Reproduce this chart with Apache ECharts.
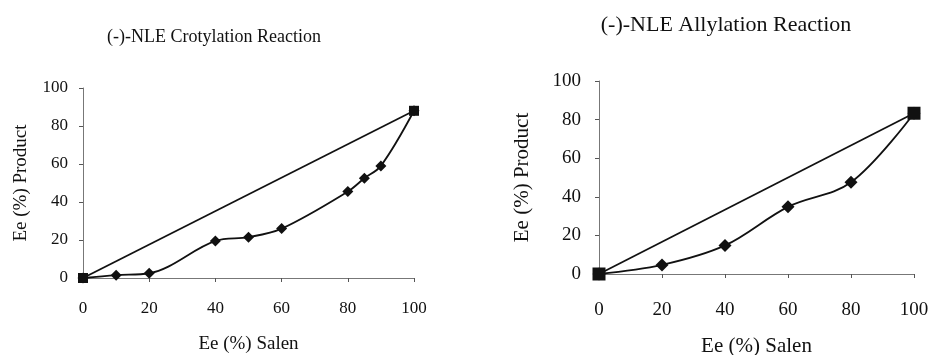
<!DOCTYPE html>
<html>
<head>
<meta charset="utf-8">
<script src="https://cdn.jsdelivr.net/npm/echarts@6/dist/echarts.min.js"></script>
<style>
  html, body { margin: 0; padding: 0; background: #fff; }
  #chart { width: 932px; height: 355px; }
</style>
</head>
<body>
<div id="chart"></div>
<script>
// crotylation (left panel)
const crotylSalen = [0, 10, 20, 40, 50, 60, 80, 85, 90, 100]
const crotylProduct = [0, 1.5, 2.5, 19.5, 21.5, 26, 45.5, 52.5, 59, 88]
const crotylLinearX = [0, 100]
const crotylLinearY = [0, 88]

// allylation (right panel)
const allylSalen = [0, 20, 40, 60, 80, 100]
const allylProduct = [0, 4.7, 14.8, 34.8, 47.5, 83.3]
const allylLinearX = [0, 100]
const allylLinearY = [0, 83.3]

const axisTicks = [0, 20, 40, 60, 80, 100]

const FONT = '"Liberation Serif", "DejaVu Serif", serif'
const INK = '#111'

const pairs = (xs, ys) => xs.map((x, i) => [x, ys[i]])

function makeAxes (idx, sz) {
  const x = {
    type: 'value',
    gridIndex: idx,
    min: axisTicks[0],
    max: axisTicks[axisTicks.length - 1],
    interval: 20,
    name: 'Ee (%) Salen',
    nameLocation: 'middle',
    nameGap: sz.xNameGap,
    nameTextStyle: { fontFamily: FONT, fontSize: sz.name, color: INK, letterSpacing: sz.spacing },
    axisLine: { onZero: false, lineStyle: { color: '#777', width: 1 } },
    axisTick: { show: true, length: 4, lineStyle: { color: '#555' } },
    axisLabel: { margin: sz.xLabelGap, fontFamily: FONT, fontSize: sz.tick, color: INK },
    splitLine: { show: false }
  }
  const y = {
    type: 'value',
    gridIndex: idx,
    min: 0,
    max: 100,
    interval: 20,
    name: 'Ee (%) Product',
    nameLocation: 'middle',
    nameGap: sz.yNameGap,
    nameTextStyle: { fontFamily: FONT, fontSize: sz.name, color: INK, letterSpacing: sz.spacing },
    axisLine: { show: true, lineStyle: { color: '#777', width: 1 } },
    axisTick: { show: true, length: 4, lineStyle: { color: '#555' } },
    axisLabel: { margin: sz.yLabelGap, fontFamily: FONT, fontSize: sz.tick, color: INK },
    splitLine: { show: false }
  }
  return { x, y }
}

const left = makeAxes(0, { tick: 17, name: 19, spacing: 0, xNameGap: 57, xLabelGap: 22, yLabelGap: 15, yNameGap: 52 })
const right = makeAxes(1, { tick: 19, name: 21, spacing: 0.5, xNameGap: 62, xLabelGap: 27, yLabelGap: 18, yNameGap: 66 })

function curve (idx, data, size) {
  return {
    type: 'line',
    xAxisIndex: idx,
    yAxisIndex: idx,
    data,
    smooth: 0.35,
    symbol: 'diamond',
    symbolSize: size,
    lineStyle: { color: INK, width: 1.8 },
    itemStyle: { color: INK },
    z: 2
  }
}

function linear (idx, data, size) {
  return {
    type: 'line',
    xAxisIndex: idx,
    yAxisIndex: idx,
    data,
    symbol: 'rect',
    symbolSize: size,
    lineStyle: { color: INK, width: 1.8 },
    itemStyle: { color: INK },
    z: 3
  }
}

const chart = echarts.init(document.getElementById('chart'))
chart.setOption({
  backgroundColor: '#fff',
  animation: false,
  title: [
    {
      text: '(-)-NLE Crotylation Reaction',
      left: 209,
      top: 23,
      textAlign: 'center',
      textStyle: { fontFamily: FONT, fontSize: 18, fontWeight: 'normal', color: INK }
    },
    {
      text: '(-)-NLE Allylation Reaction',
      left: 721,
      top: 9,
      textAlign: 'center',
      textStyle: { fontFamily: FONT, fontSize: 22, fontWeight: 'normal', color: INK, letterSpacing: 0.5 }
    }
  ],
  grid: [
    { left: 83, top: 88, width: 331, height: 190, outerBoundsMode: 'none' },
    { left: 599, top: 81, width: 315, height: 193, outerBoundsMode: 'none' }
  ],
  xAxis: [left.x, right.x],
  yAxis: [left.y, right.y],
  series: [
    curve(0, pairs(crotylSalen, crotylProduct), 11),
    linear(0, pairs(crotylLinearX, crotylLinearY), 10),
    curve(1, pairs(allylSalen, allylProduct), 13),
    linear(1, pairs(allylLinearX, allylLinearY), 13)
  ]
})
</script>
</body>
</html>
